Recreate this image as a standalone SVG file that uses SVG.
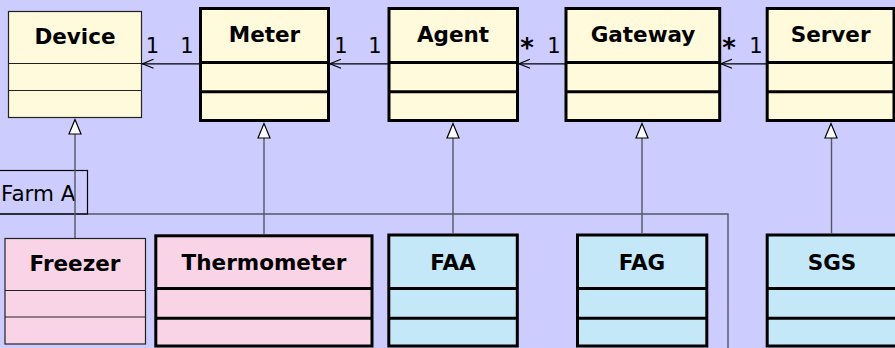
<svg xmlns="http://www.w3.org/2000/svg" width="895" height="348" viewBox="0 0 895 348">
<style>
.bg{fill:#ccccff}
.thin{stroke:#222;stroke-width:1.2}
.thick{stroke:#000;stroke-width:3}
.yel{fill:#fffadc}
.pink{fill:#f9d4e6}
.blue{fill:#c5e8f8}
.title{font-family:"DejaVu Sans",sans-serif;font-weight:bold;font-size:21.5px;fill:#000;text-anchor:middle}
.mult{font-family:"DejaVu Sans",sans-serif;font-size:21px;fill:#000;text-anchor:middle}
.star{font-family:"DejaVu Sans",sans-serif;font-size:26px;font-weight:bold;fill:#000;text-anchor:middle}
.assoc{stroke:#000;stroke-width:1.2;fill:none}
.inh{stroke:#555566;stroke-width:1.4;fill:none}
.tri{stroke:#000;stroke-width:1.2;fill:#fff}
.frame{stroke:#555566;stroke-width:1.4;fill:none}
</style>
<rect class="bg" x="0" y="0" width="895" height="348"/>

<g id="farmA">
<polyline class="frame" points="-5,214 728,214 728,352"/>
<rect x="-5" y="170.5" width="92.5" height="43.5" fill="none" stroke="#000" stroke-width="1.2"/>
<text x="1" y="201" font-family="DejaVu Sans,sans-serif" font-size="21.5" fill="#000">Farm A</text>
</g>

<g id="Device">
<rect class="yel thin" x="8.5" y="11.5" width="133" height="106"/>
<line class="thin" x1="8.5" y1="63.5" x2="141.5" y2="63.5"/>
<line class="thin" x1="8.5" y1="90.5" x2="141.5" y2="90.5"/>
<text class="title" x="75" y="44">Device</text>
</g>

<g id="Meter">
<rect class="yel thick" x="200.5" y="8.5" width="128" height="112"/>
<line class="thick" x1="200.5" y1="62.5" x2="328.5" y2="62.5"/>
<line class="thick" x1="200.5" y1="91.8" x2="328.5" y2="91.8"/>
<text class="title" x="264.5" y="42">Meter</text>
</g>

<g id="Agent">
<rect class="yel thick" x="389" y="8.5" width="128.5" height="112"/>
<line class="thick" x1="389" y1="62.5" x2="517.5" y2="62.5"/>
<line class="thick" x1="389" y1="91.8" x2="517.5" y2="91.8"/>
<text class="title" x="453" y="42">Agent</text>
</g>

<g id="Gateway">
<rect class="yel thick" x="566" y="8.5" width="153.7" height="112"/>
<line class="thick" x1="566" y1="62.5" x2="719.7" y2="62.5"/>
<line class="thick" x1="566" y1="91.8" x2="719.7" y2="91.8"/>
<text class="title" x="643" y="42">Gateway</text>
</g>

<g id="Server">
<rect class="yel thick" x="767.2" y="8.5" width="126.8" height="112"/>
<line class="thick" x1="767.2" y1="62.5" x2="894" y2="62.5"/>
<line class="thick" x1="767.2" y1="91.8" x2="894" y2="91.8"/>
<text class="title" x="830.6" y="42">Server</text>
</g>

<g id="Freezer">
<rect class="pink thin" x="5" y="238.5" width="140.5" height="105.5"/>
<line class="thin" x1="5" y1="290.5" x2="145.5" y2="290.5"/>
<line class="thin" x1="5" y1="317" x2="145.5" y2="317"/>
<text class="title" x="75" y="271">Freezer</text>
</g>

<g id="Thermometer">
<rect class="pink thick" x="155.8" y="235.8" width="216.2" height="110.2"/>
<line class="thick" x1="155.8" y1="288.5" x2="372" y2="288.5"/>
<line class="thick" x1="155.8" y1="318.2" x2="372" y2="318.2"/>
<text class="title" x="264" y="270">Thermometer</text>
</g>

<g id="FAA">
<rect class="blue thick" x="388.8" y="235" width="128.5" height="111"/>
<line class="thick" x1="388.8" y1="288.5" x2="517.3" y2="288.5"/>
<line class="thick" x1="388.8" y1="318.2" x2="517.3" y2="318.2"/>
<text class="title" x="453" y="270">FAA</text>
</g>

<g id="FAG">
<rect class="blue thick" x="577.5" y="235" width="129.3" height="111"/>
<line class="thick" x1="577.5" y1="288.5" x2="706.8" y2="288.5"/>
<line class="thick" x1="577.5" y1="318.2" x2="706.8" y2="318.2"/>
<text class="title" x="642" y="270">FAG</text>
</g>

<g id="SGS">
<rect class="blue thick" x="767.2" y="235" width="130" height="111"/>
<line class="thick" x1="767.2" y1="288.5" x2="897" y2="288.5"/>
<line class="thick" x1="767.2" y1="318.2" x2="897" y2="318.2"/>
<text class="title" x="832" y="270">SGS</text>
</g>

<g id="connectors">
<line class="assoc" x1="199" y1="63.8" x2="142" y2="63.8"/>
<polyline class="assoc" points="153.5,59.3 142.5,63.8 153.5,68.3"/>
<line class="assoc" x1="388" y1="63.8" x2="330" y2="63.8"/>
<polyline class="assoc" points="341,59.3 330,63.8 341,68.3"/>
<line class="assoc" x1="565" y1="63.8" x2="519" y2="63.8"/>
<polyline class="assoc" points="530,59.3 519,63.8 530,68.3"/>
<line class="assoc" x1="766" y1="63.8" x2="721" y2="63.8"/>
<polyline class="assoc" points="732,59.3 721,63.8 732,68.3"/>

<text class="mult" x="152.5" y="53">1</text>
<text class="mult" x="187" y="53">1</text>
<text class="mult" x="341" y="53">1</text>
<text class="mult" x="375" y="53">1</text>
<text class="star" x="527" y="57">*</text>
<text class="mult" x="554" y="53">1</text>
<text class="star" x="729" y="57">*</text>
<text class="mult" x="756" y="53">1</text>

<line class="inh" x1="75" y1="134" x2="75" y2="238"/>
<polygon class="tri" points="75,119.5 69,134 81,134"/>
<line class="inh" x1="264" y1="138" x2="264" y2="234"/>
<polygon class="tri" points="264,123.5 258,138 270,138"/>
<line class="inh" x1="453" y1="138" x2="453" y2="233.5"/>
<polygon class="tri" points="453,123.5 447,138 459,138"/>
<line class="inh" x1="642" y1="138" x2="642" y2="233.5"/>
<polygon class="tri" points="642,123.5 636,138 648,138"/>
<line class="inh" x1="831.5" y1="138" x2="831.5" y2="233.5"/>
<polygon class="tri" points="831,123.5 825,138 837,138"/>
</g>
</svg>
